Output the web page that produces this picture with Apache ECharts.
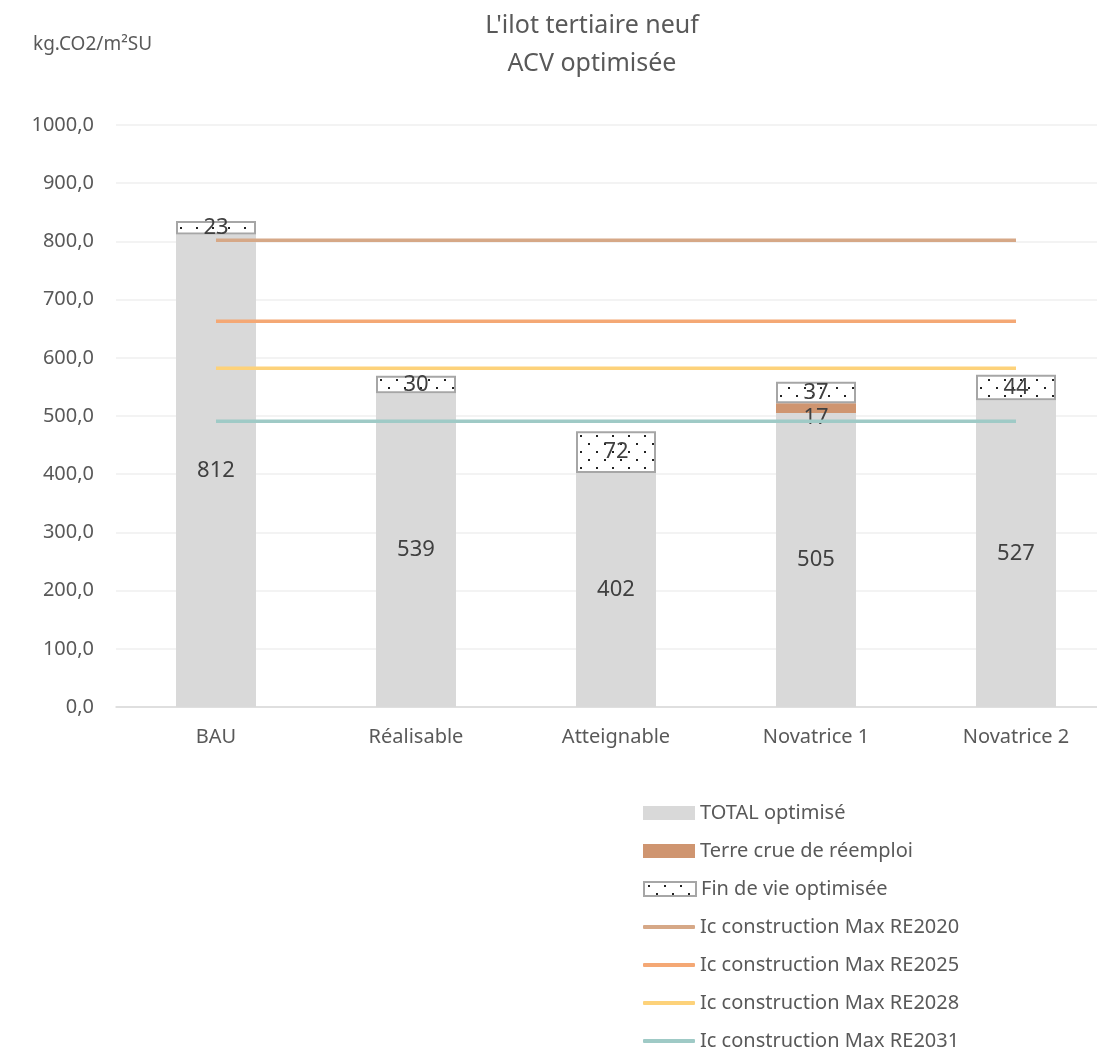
<!DOCTYPE html>
<html>
<head>
<meta charset="utf-8">
<script src="https://cdn.jsdelivr.net/npm/echarts@6/dist/echarts.min.js"></script>
<style>html,body{margin:0;padding:0;background:#fff}#main{width:1097px;height:1052px}</style>
</head>
<body>
<div id="main"></div>
<script type="text/javascript">
var categories = ['BAU', 'Réalisable', 'Atteignable', 'Novatrice 1', 'Novatrice 2'];
var totalOptimise = [812, 539, 402, 505, 527];
var terreCrue = [null, null, null, 17, null];
var finDeVie = [23, 30, 72, 37, 44];
var re2020 = [802, 802, 802, 802, 802];
var re2025 = [663, 663, 663, 663, 663];
var re2028 = [582, 582, 582, 582, 582];
var re2031 = [491, 491, 491, 491, 491];
var yTicks = [0, 100, 200, 300, 400, 500, 600, 700, 800, 900, 1000];

// axe x en valeurs (200 px par catégorie) : données [valeur, index], la valeur en premier pour l'empilement
function pairs(arr) {
    return arr.map(function (v, i) { return [v == null ? '-' : v, i]; });
}
var enc = { x: 1, y: 0 };

// motif pointillé pour "Fin de vie"
var pat = document.createElement('canvas');
pat.width = 32; pat.height = 16;
var ctx = pat.getContext('2d');
ctx.fillStyle = '#fff'; ctx.fillRect(0, 0, 32, 16);
ctx.fillStyle = '#222';
[[4, 3], [20, 3], [12, 11], [28, 11]].forEach(function (p) { ctx.fillRect(p[0], p[1], 2, 2); });

var txt = '#595959';
var font = 'Noto Sans';
var catIdx = categories.map(function (c, i) { return i; });

var myChart = echarts.init(document.getElementById('main'));

function refLine(name, data, color) {
    return {
        name: name, type: 'line', data: pairs(data), encode: enc, symbol: 'none',
        lineStyle: { color: color, width: 3.5 }, itemStyle: { color: color },
        z: 5, silent: true
    };
}
function barLabel(extra) {
    var l = { show: true, position: 'inside', color: '#404040', fontSize: 22,
              formatter: function (p) { return p.value[0]; } };
    for (var k in extra) l[k] = extra[k];
    return l;
}

var legendNames = ['TOTAL optimisé', 'Terre crue de réemploi', 'Fin de vie optimisée',
    'Ic construction Max RE2020', 'Ic construction Max RE2025',
    'Ic construction Max RE2028', 'Ic construction Max RE2031'];
var legends = legendNames.map(function (n, i) {
    var isLine = i > 2;
    return {
        orient: 'vertical', left: 643, top: 803 + i * 38, padding: 0,
        itemWidth: 52, itemHeight: isLine ? 4 : 14, icon: isLine ? 'roundRect' : 'rect',
        textStyle: { color: txt, fontSize: 20, fontFamily: font },
        data: [n]
    };
});

var option = {
    backgroundColor: '#fff',
    textStyle: { fontFamily: font },
    animation: false,
    title: {
        text: "L'ilot tertiaire neuf\nACV optimisée",
        left: 587, top: 2, textAlign: 'center',
        textStyle: { fontSize: 25, fontWeight: 'normal', color: txt, lineHeight: 38, fontFamily: font }
    },
    graphic: [{
        type: 'text', left: 33, top: 35,
        style: { text: 'kg.CO2/m²SU', fontSize: 19, fill: txt, fontFamily: font }
    }],
    grid: { left: 116, top: 125, right: 0, height: 582 },
    xAxis: {
        type: 'value', min: -0.5, max: 4.405,
        splitLine: { show: false },
        axisLine: { onZero: false, lineStyle: { color: '#d9d9d9', width: 1.5 } },
        axisTick: { show: false },
        axisLabel: {
            color: txt, fontSize: 20, margin: 20, customValues: catIdx,
            formatter: function (v) { return categories[Math.round(v)] || ''; }
        }
    },
    yAxis: {
        type: 'value', min: yTicks[0], max: yTicks[yTicks.length - 1], interval: 100,
        axisLine: { show: false }, axisTick: { show: false },
        splitLine: { lineStyle: { color: '#efefef', width: 1.5 } },
        axisLabel: {
            color: txt, fontSize: 20, margin: 22,
            formatter: function (v) { return v.toFixed(1).replace('.', ','); }
        }
    },
    legend: legends,
    series: [
        {
            name: 'TOTAL optimisé', type: 'bar', stack: 't', data: pairs(totalOptimise), encode: enc, barWidth: 80,
            itemStyle: { color: '#d9d9d9' },
            label: barLabel({})
        },
        {
            name: 'Terre crue de réemploi', type: 'bar', stack: 't', data: pairs(terreCrue), encode: enc, barWidth: 80,
            itemStyle: { color: '#cf9570' },
            label: barLabel({ offset: [0, 10] })
        },
        {
            name: 'Fin de vie optimisée', type: 'bar', stack: 't', data: pairs(finDeVie), encode: enc, barWidth: 80,
            itemStyle: { color: { image: pat, repeat: 'repeat' }, borderColor: '#a6a6a6', borderWidth: 2 },
            label: barLabel({})
        },
        refLine('Ic construction Max RE2020', re2020, '#d6a887'),
        refLine('Ic construction Max RE2025', re2025, '#f4a875'),
        refLine('Ic construction Max RE2028', re2028, '#fdd27a'),
        refLine('Ic construction Max RE2031', re2031, '#9fcac6')
    ]
};

myChart.setOption(option);
</script>
</body>
</html>
